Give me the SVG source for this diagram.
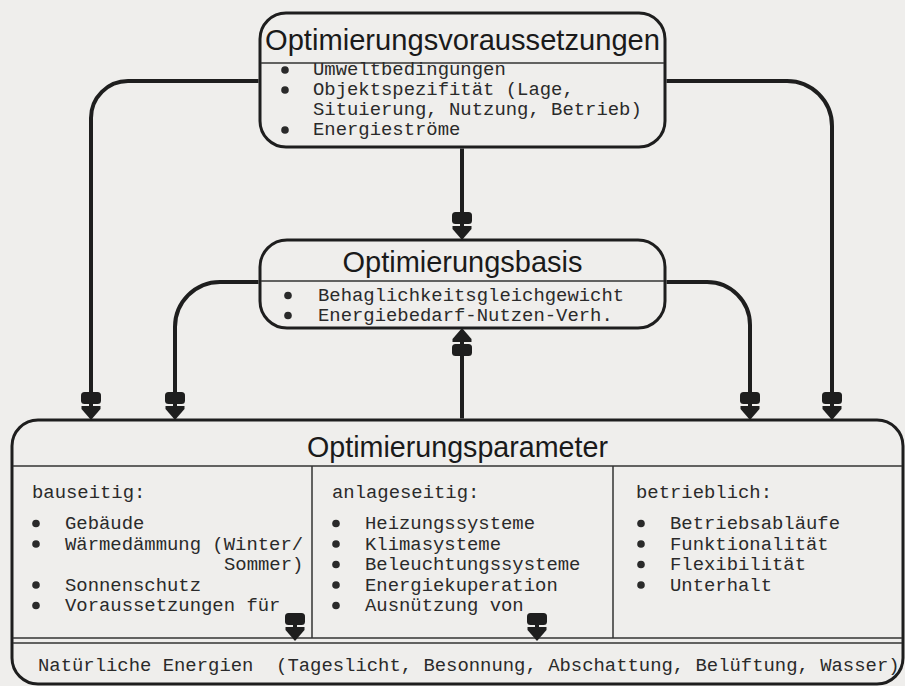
<svg xmlns="http://www.w3.org/2000/svg" width="905" height="686" viewBox="0 0 905 686">
<defs>
<style>
.bg{fill:#efeeec}
.box{fill:#efeeec;stroke:#1e1e1e;stroke-width:3}
.div{stroke:#333;stroke-width:1.5;fill:none}
.title{font-family:"Liberation Sans",Arial,sans-serif;font-size:29px;fill:#1a1a1a;text-anchor:middle}
.mono{font-family:"Liberation Mono","Courier New",monospace;font-size:18.9px;fill:#2a2a2a;white-space:pre}
.bul{fill:#2a2a2a}
.conn{fill:none;stroke:#1e1e1e;stroke-width:4}
.ah{fill:#1e1e1e}
</style>
<marker id="arr" markerUnits="userSpaceOnUse" viewBox="-30 -12 40 24" markerWidth="40" markerHeight="24" refX="-6" refY="0" orient="auto">
<rect class="ah" x="-28" y="-10" width="12" height="20" rx="3.5"/>
<path class="ah" d="M-14,-9.5 L-11,-9.5 L0,0 L-11,9.5 L-14,9.5 Z"/>
</marker>
</defs>
<rect class="bg" x="0" y="0" width="905" height="686"/>

<g id="voraussetzungen">
<rect class="box" x="260" y="13" width="405" height="134" rx="26"/>
<line class="div" x1="261" y1="63" x2="664" y2="63"/>
<text class="title" x="462.5" y="50" textLength="395" lengthAdjust="spacingAndGlyphs">Optimierungsvoraussetzungen</text>
<circle class="bul" cx="285" cy="70" r="3.8"/>
<circle class="bul" cx="285" cy="90" r="3.8"/>
<circle class="bul" cx="285" cy="130" r="3.8"/>
<text class="mono" x="313" y="75">Umweltbedingungen</text>
<text class="mono" x="313" y="95">Objektspezifität (Lage,</text>
<text class="mono" x="313" y="115">Situierung, Nutzung, Betrieb)</text>
<text class="mono" x="313" y="135">Energieströme</text>
</g>

<g id="basis">
<rect class="box" x="260" y="240" width="405" height="88" rx="27"/>
<line class="div" x1="261" y1="281" x2="664" y2="281"/>
<text class="title" x="462.5" y="272" textLength="240" lengthAdjust="spacingAndGlyphs">Optimierungsbasis</text>
<circle class="bul" cx="288" cy="295.5" r="3.8"/>
<circle class="bul" cx="288" cy="315.5" r="3.8"/>
<text class="mono" x="318" y="301">Behaglichkeitsgleichgewicht</text>
<text class="mono" x="318" y="321">Energiebedarf-Nutzen-Verh.</text>
</g>

<g id="parameter">
<rect class="box" x="12" y="420" width="891" height="264" rx="26"/>
<line class="div" x1="13" y1="466" x2="902" y2="466"/>
<line class="div" x1="312" y1="466" x2="312" y2="638"/>
<line class="div" x1="613" y1="466" x2="613" y2="638"/>
<line class="div" x1="13" y1="638" x2="902" y2="638"/>
<line class="div" x1="13" y1="643" x2="902" y2="643"/>
<text class="title" x="457.5" y="457" textLength="301" lengthAdjust="spacingAndGlyphs">Optimierungsparameter</text>

<g id="bauseitig">
<text class="mono" x="32" y="498">bauseitig:</text>
<circle class="bul" cx="36" cy="523.5" r="3.8"/>
<circle class="bul" cx="36" cy="544" r="3.8"/>
<circle class="bul" cx="36" cy="585" r="3.8"/>
<circle class="bul" cx="36" cy="605.5" r="3.8"/>
<text class="mono" x="65" y="529">Gebäude</text>
<text class="mono" x="65" y="549.5">Wärmedämmung (Winter/</text>
<text class="mono" x="224" y="570">Sommer)</text>
<text class="mono" x="65" y="590.5">Sonnenschutz</text>
<text class="mono" x="65" y="611">Voraussetzungen für</text>
</g>

<g id="anlageseitig">
<text class="mono" x="332" y="498">anlageseitig:</text>
<circle class="bul" cx="336" cy="523.5" r="3.8"/>
<circle class="bul" cx="336" cy="544" r="3.8"/>
<circle class="bul" cx="336" cy="564.5" r="3.8"/>
<circle class="bul" cx="336" cy="585" r="3.8"/>
<circle class="bul" cx="336" cy="605.5" r="3.8"/>
<text class="mono" x="365" y="529">Heizungssysteme</text>
<text class="mono" x="365" y="549.5">Klimasysteme</text>
<text class="mono" x="365" y="570">Beleuchtungssysteme</text>
<text class="mono" x="365" y="590.5">Energiekuperation</text>
<text class="mono" x="365" y="611">Ausnützung von</text>
</g>

<g id="betrieblich">
<text class="mono" x="636" y="498">betrieblich:</text>
<circle class="bul" cx="641" cy="523.5" r="3.8"/>
<circle class="bul" cx="641" cy="544" r="3.8"/>
<circle class="bul" cx="641" cy="564.5" r="3.8"/>
<circle class="bul" cx="641" cy="585" r="3.8"/>
<text class="mono" x="670" y="529">Betriebsabläufe</text>
<text class="mono" x="670" y="549.5">Funktionalität</text>
<text class="mono" x="670" y="570">Flexibilität</text>
<text class="mono" x="670" y="590.5">Unterhalt</text>
</g>

<text class="mono" x="38" y="671" xml:space="preserve">Natürliche Energien  (Tageslicht, Besonnung, Abschattung, Belüftung, Wasser)</text>
</g>

<g id="connectors">
<path class="conn" marker-end="url(#arr)" d="M462,148.5 V234"/>
<path class="conn" marker-end="url(#arr)" d="M258.5,81 H128 A37,37 0 0 0 91,118 V414"/>
<path class="conn" marker-end="url(#arr)" d="M666.5,81 H787 A45,45 0 0 1 832,126 V414"/>
<path class="conn" marker-end="url(#arr)" d="M258.5,282 H220 A45,45 0 0 0 175,327 V414"/>
<path class="conn" marker-end="url(#arr)" d="M666.5,282 H707 A43,43 0 0 1 750,325 V414"/>
<path class="conn" marker-end="url(#arr)" d="M462,418.5 V334"/>
<path class="conn" marker-end="url(#arr)" d="M295,620 V635"/>
<path class="conn" marker-end="url(#arr)" d="M537,620 V635"/>
</g>
</svg>
